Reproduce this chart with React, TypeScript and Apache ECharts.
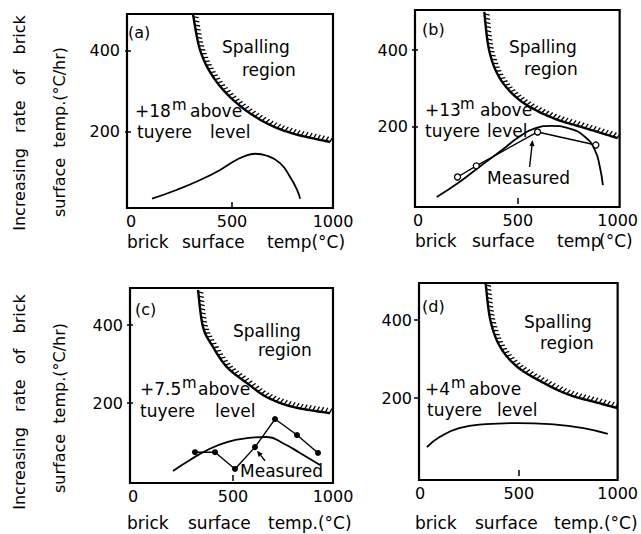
import React, { useEffect, useRef } from "react";
import * as echarts from "echarts";

const FONT = "DejaVu Sans";

// tick labels
const xTickLabels = [0, 500, 1000];
const xTickMarks = [500];
const yTickLabels = [200, 400];

// (a) +18 m
const boundaryA = [[307, 489], [342, 402], [406, 336], [505, 279], [639, 230], [787, 198], [985, 175]];
const curveA = [[104, 35], [228, 57], [342, 81], [441, 106], [505, 126], [554, 138], [614, 146], [673, 141], [738, 123], [787, 89], [822, 57], [837, 35]];

// (b) +13 m
const boundaryB = [[332, 499], [356, 400], [406, 330], [490, 278], [589, 244], [703, 218], [837, 197], [1000, 171]];
const curveB = [[94, 18], [208, 57], [307, 96], [421, 140], [505, 174], [589, 197], [668, 203], [752, 197], [837, 174], [886, 140], [911, 96], [926, 49]];
const measuredB = [[198, 70], [292, 99], [599, 187], [891, 153]];
const arrowB = [559, 96, 574, 166];

// (c) +7.5 m
const boundaryC = [[325, 490], [350, 395], [400, 344], [470, 292], [570, 251], [670, 215], [800, 190], [985, 174]];
const curveC = [[200, 26], [285, 54], [370, 79], [470, 100], [570, 110], [670, 113], [750, 97], [835, 72], [935, 41]];
const measuredC = [[310, 74], [410, 74], [510, 31], [610, 87], [710, 159], [820, 118], [925, 72]];
const arrowC = [660, 52, 620, 78];

// (d) +4 m
const boundaryD = [[332, 495], [356, 400], [406, 331], [495, 279], [629, 238], [757, 208], [906, 187], [1000, 174]];
const curveD = [[35, 74], [99, 100], [198, 123], [332, 133], [495, 136], [658, 133], [827, 123], [950, 108]];

const panels = [
  { grid: { left: 127, top: 14, width: 206, height: 194 }, x: [-20, 1000], y: [12, 491], boundary: boundaryA, curve: curveA, measured: null, mStyle: null, arrow: null },
  { grid: { left: 415, top: 10, width: 207, height: 197 }, x: [-15, 1010], y: [-8, 504], boundary: boundaryB, curve: curveB, measured: measuredB, mStyle: "open", arrow: arrowB },
  { grid: { left: 130, top: 288, width: 203, height: 195 }, x: [-15, 1000], y: [-5, 495], boundary: boundaryC, curve: curveC, measured: measuredC, mStyle: "filled", arrow: arrowC },
  { grid: { left: 419, top: 283, width: 203, height: 197 }, x: [-5, 1000], y: [-10, 495], boundary: boundaryD, curve: curveD, measured: null, mStyle: null, arrow: null },
];

function catmull(pts: number[][], seg: number) {
  const out: number[][] = [];
  const n = pts.length;
  for (let i = 0; i < n - 1; i++) {
    const p0 = pts[i - 1] || pts[i];
    const p1 = pts[i];
    const p2 = pts[i + 1];
    const p3 = pts[i + 2] || pts[i + 1];
    for (let s = 0; s < seg; s++) {
      const t = s / seg;
      const t2 = t * t, t3 = t2 * t;
      const f = (a: number, b: number, c: number, d: number) =>
        0.5 * (2 * b + (-a + c) * t + (2 * a - 5 * b + 4 * c - d) * t2 + (-a + 3 * b - 3 * c + d) * t3);
      out.push([f(p0[0], p1[0], p2[0], p3[0]), f(p0[1], p1[1], p2[1], p3[1])]);
    }
  }
  out.push(pts[n - 1]);
  return out;
}

function boundaryRenderer(points: number[][]) {
  return (params: any, api: any) => {
    if (params.dataIndex !== 0) return null;
    const px = points.map((p) => api.coord(p));
    const dense = catmull(px, 12);
    const children: any[] = [
      { type: "polyline", shape: { points: dense }, style: { stroke: "#000", lineWidth: 2.4, fill: null } },
    ];
    let acc = 0;
    let next = 2;
    for (let i = 1; i < dense.length; i++) {
      const a = dense[i - 1], b = dense[i];
      const dx = b[0] - a[0], dy = b[1] - a[1];
      const L = Math.hypot(dx, dy);
      if (L === 0) continue;
      while (acc + L >= next) {
        const r = (next - acc) / L;
        const p = [a[0] + dx * r, a[1] + dy * r];
        const tx = dx / L, ty = dy / L;
        const nx = ty, ny = -tx;
        children.push({
          type: "line",
          shape: { x1: p[0], y1: p[1], x2: p[0] + nx * 5 + tx * 1.8, y2: p[1] + ny * 5 + ty * 1.8 },
          style: { stroke: "#000", lineWidth: 1.3 },
        });
        next += 4.2;
      }
      acc += L;
    }
    return { type: "group", children };
  };
}

function arrowRenderer(params: any, api: any) {
  const p1 = api.coord([api.value(0), api.value(1)]);
  const p2 = api.coord([api.value(2), api.value(3)]);
  const dx = p2[0] - p1[0], dy = p2[1] - p1[1];
  const L = Math.hypot(dx, dy);
  const ux = dx / L, uy = dy / L;
  const hl = 6, hw = 2.6;
  const bx = p2[0] - ux * hl, by = p2[1] - uy * hl;
  return {
    type: "group",
    children: [
      { type: "line", shape: { x1: p1[0], y1: p1[1], x2: bx, y2: by }, style: { stroke: "#000", lineWidth: 1.4 } },
      {
        type: "polygon",
        shape: { points: [[p2[0], p2[1]], [bx - uy * hw, by + ux * hw], [bx + uy * hw, by - ux * hw]] },
        style: { fill: "#000" },
      },
    ],
  };
}

function txt(x: number, y: number, s: string, size = 17, extra: any = {}) {
  return {
    type: "text",
    x,
    y,
    style: { text: s, fontSize: size, fontFamily: FONT, fill: "#000", textAlign: "left", textVerticalAlign: "middle", ...extra },
    silent: true,
  };
}
function vtxt(x: number, y: number, s: string, size = 16) {
  return {
    type: "text",
    x,
    y,
    rotation: Math.PI / 2,
    style: { text: s, fontSize: size, fontFamily: FONT, fill: "#000", textAlign: "center", textVerticalAlign: "middle" },
    silent: true,
  };
}

const texts: any[] = [
  // axis titles (left)
  vtxt(19, 123, "Increasing   rate   of   brick"),
  vtxt(59, 132, "surface  temp.(°C/hr)", 16),
  vtxt(19, 402, "Increasing   rate   of   brick"),
  vtxt(59, 408, "surface  temp.(°C/hr)", 16),
  // x titles
  txt(127, 242, "brick"), txt(182, 242, "surface"), txt(267, 242, "temp(°C)"),
  txt(415, 241, "brick"), txt(472, 241, "surface"), txt(557, 241, "temp"), txt(599, 241, "(°C)"),
  txt(127, 523, "brick"), txt(188, 523, "surface"), txt(268, 523, "temp.(°C)"),
  txt(415, 523, "brick"), txt(475, 523, "surface"), txt(554, 523, "temp.(°C)"),
  // (a)
  txt(128, 32, "(a)", 16), txt(222, 47, "Spalling"), txt(242, 70, "region"),
  txt(135, 111, "+18"), txt(172, 105, "m", 15), txt(190, 111, "above"),
  txt(137, 132, "tuyere"), txt(210, 132, "level"),
  // (b)
  txt(422, 29, "(b)", 16), txt(509, 47, "Spalling"), txt(524, 69, "region"),
  txt(425, 110, "+13"), txt(460, 104, "m", 15), txt(480, 110, "above"),
  txt(425, 131, "tuyere"), txt(487, 131, "level"),
  txt(487, 178, "Measured"),
  // (c)
  txt(135, 309, "(c)", 16), txt(233, 331, "Spalling"), txt(258, 350, "region"),
  txt(140, 389, "+7.5"), txt(182, 383, "m", 15), txt(198, 389, "above"),
  txt(140, 411, "tuyere"), txt(215, 411, "level"),
  txt(240, 471, "Measured"),
  // (d)
  txt(422, 306, "(d)", 16), txt(524, 322, "Spalling"), txt(540, 343, "region"),
  txt(425, 389, "+4"), txt(451, 383, "m", 15), txt(469, 389, "above"),
  txt(427, 410, "tuyere"), txt(497, 410, "level"),
];

export default function App() {
  const ref = useRef<HTMLDivElement>(null);
  useEffect(() => {
    if (!ref.current) return;
    const chart = echarts.init(ref.current, undefined, { renderer: "svg" });
    const grid: any[] = [];
    const xAxis: any[] = [];
    const yAxis: any[] = [];
    const series: any[] = [];
    panels.forEach((p, i) => {
      grid.push({ ...p.grid, show: true, borderColor: "#000", borderWidth: 2.2, backgroundColor: "transparent" });
      xAxis.push({
        gridIndex: i, type: "value", min: p.x[0], max: p.x[1],
        axisLine: { show: false }, splitLine: { show: false },
        axisTick: { show: true, inside: true, length: 6, customValues: xTickMarks, lineStyle: { color: "#000", width: 1.5 } },
        axisLabel: { customValues: xTickLabels, margin: 5, fontSize: 16, color: "#000", fontFamily: FONT, formatter: (v: number) => String(v) },
      });
      yAxis.push({
        gridIndex: i, type: "value", min: p.y[0], max: p.y[1],
        axisLine: { show: false }, splitLine: { show: false },
        axisTick: { show: true, inside: false, length: 6, customValues: yTickLabels, lineStyle: { color: "#000", width: 1.5 } },
        axisLabel: { customValues: yTickLabels, margin: 7, fontSize: 16, color: "#000", fontFamily: FONT, formatter: (v: number) => String(v) },
      });
      series.push({
        type: "custom", xAxisIndex: i, yAxisIndex: i, clip: false,
        renderItem: boundaryRenderer(p.boundary), data: [p.boundary[0]], silent: true,
      });
      series.push({
        type: "line", xAxisIndex: i, yAxisIndex: i, data: p.curve, smooth: 0.5, showSymbol: false,
        lineStyle: { color: "#000", width: 1.8 }, silent: true,
      });
      if (p.measured) {
        const open = p.mStyle === "open";
        series.push({
          type: "line", xAxisIndex: i, yAxisIndex: i, data: p.measured, smooth: false,
          symbol: "circle", symbolSize: 6, showSymbol: true,
          itemStyle: open ? { color: "#fff", borderColor: "#000", borderWidth: 1.3 } : { color: "#000", borderColor: "#000", borderWidth: 0 },
          lineStyle: { color: "#000", width: 1.4 }, silent: true, z: 3,
        });
      }
      if (p.arrow) {
        series.push({
          type: "custom", xAxisIndex: i, yAxisIndex: i, clip: false,
          renderItem: arrowRenderer, data: [p.arrow], silent: true, z: 4,
        });
      }
    });
    chart.setOption({
      animation: false,
      backgroundColor: "#fff",
      grid, xAxis, yAxis, series,
      graphic: texts,
    });
    return () => chart.dispose();
  }, []);
  return <div ref={ref} style={{ width: 641, height: 534, position: "absolute", left: 0, top: 0 }} />;
}
